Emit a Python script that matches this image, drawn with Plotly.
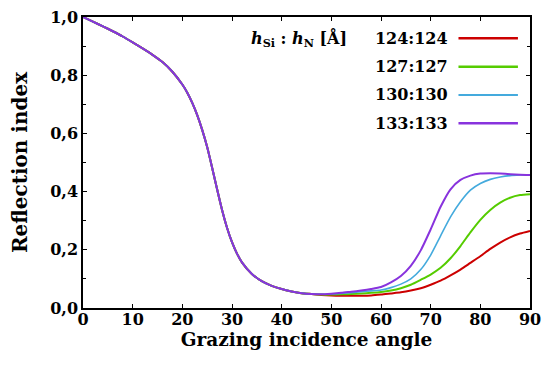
import plotly.graph_objects as go

angles = [0, 2, 4, 6, 8, 10, 12, 14, 16, 18, 20, 21, 22, 23, 24, 25, 26, 27, 28, 29, 30, 31, 32,
          34, 36, 38, 40, 42, 44, 46, 48, 50, 52, 54, 56, 58, 60, 62, 64, 66, 68, 70, 72, 74, 76,
          78, 80, 82, 84, 86, 88, 90]

common = [1.0, 0.984, 0.968, 0.951, 0.933, 0.913, 0.892, 0.870, 0.845, 0.812, 0.768, 0.740,
          0.705, 0.663, 0.612, 0.553, 0.482, 0.408, 0.337, 0.276, 0.226, 0.187, 0.157, 0.117,
          0.092, 0.076, 0.065, 0.057, 0.051, 0.048]

tail_124 = [0.045, 0.043, 0.042, 0.042, 0.042, 0.043, 0.046, 0.050, 0.054, 0.060, 0.068, 0.080,
            0.094, 0.112, 0.132, 0.155, 0.178, 0.203, 0.225, 0.243, 0.256, 0.265]
tail_127 = [0.046, 0.046, 0.047, 0.048, 0.050, 0.052, 0.055, 0.060, 0.068, 0.080, 0.097, 0.115,
            0.138, 0.171, 0.213, 0.260, 0.303, 0.337, 0.362, 0.379, 0.388, 0.391]
tail_130 = [0.047, 0.048, 0.050, 0.053, 0.056, 0.059, 0.062, 0.070, 0.082, 0.100, 0.132, 0.182,
            0.248, 0.313, 0.365, 0.405, 0.428, 0.442, 0.450, 0.455, 0.457, 0.458]
tail_133 = [0.047, 0.049, 0.052, 0.056, 0.060, 0.065, 0.072, 0.088, 0.110, 0.145, 0.198, 0.270,
            0.348, 0.408, 0.440, 0.455, 0.462, 0.463, 0.462, 0.460, 0.458, 0.457]

labels = ["124:124", "127:127", "130:130", "133:133"]
colors = ["#cc0000", "#55cc00", "#44aadd", "#8833dd"]
widths = [2, 2, 1.6, 2]
series = [common + tail_124, common + tail_127, common + tail_130, common + tail_133]

x_ticks = [0, 10, 20, 30, 40, 50, 60, 70, 80, 90]
y_ticks = [0.0, 0.2, 0.4, 0.6, 0.8, 1.0]

font_family = "DejaVu Serif"

fig = go.Figure()
for lab, col, w, ys in zip(labels, colors, widths, series):
    fig.add_trace(go.Scatter(x=angles, y=ys, mode="lines", name=lab,
                             line=dict(color=col, width=w, shape="spline", smoothing=0.6),
                             showlegend=False))

# gnuplot-style legend: right-aligned text followed by a line sample
row_y = [0.927, 0.829, 0.732, 0.635]
for i, (lab, col, w) in enumerate(zip(labels, colors, widths)):
    text = lab
    if i == 0:
        text = ("<i>h</i><sub>Si</sub> : <i>h</i><sub>N</sub> [Å]"
                "&nbsp;&nbsp;&nbsp;&nbsp; " + lab)
    fig.add_annotation(x=0.82, y=row_y[i], xref="paper", yref="paper", text="<b>" + text + "</b>",
                       showarrow=False, xanchor="right", yanchor="middle",
                       font=dict(family=font_family, size=16, color="black"))
    fig.add_shape(type="line", xref="paper", yref="paper", x0=0.840, x1=0.973,
                  y0=row_y[i], y1=row_y[i], line=dict(color=col, width=w + 0.5))

axis_common = dict(showline=True, linecolor="black", linewidth=1.5, mirror="allticks",
                   ticks="inside", ticklen=4, tickcolor="black", showgrid=False, zeroline=False,
                   automargin=False, ticklabeloverflow="allow",
                   tickfont=dict(family=font_family, size=16, color="black"))

fig.update_xaxes(range=[0, 90], tickvals=x_ticks, ticktext=[f"<b>{v}</b>" for v in x_ticks],
                 ticklabelstandoff=-4,
                 title=dict(text="<b>Grazing incidence angle</b>", standoff=0,
                            font=dict(family=font_family, size=18.5, color="black")),
                 **axis_common)
fig.update_yaxes(range=[0, 1.0], tickvals=y_ticks,
                 ticktext=[f"<b>{v:.1f}</b>".replace(".", ",") for v in y_ticks],
                 minor=dict(ticks="inside", ticklen=3, dtick=0.1, tickcolor="black"),
                 title=dict(text="<b>Reflection index</b>", standoff=17,
                            font=dict(family=font_family, size=20, color="black")),
                 **axis_common)

fig.update_layout(width=544, height=367, margin=dict(l=83, r=14, t=17, b=59),
                  plot_bgcolor="white", paper_bgcolor="white",
                  font=dict(family=font_family, color="black"))

fig.write_html("out.html", config={"displayModeBar": False},
               post_script="document.body.style.margin='0';document.body.style.overflow='hidden';")
